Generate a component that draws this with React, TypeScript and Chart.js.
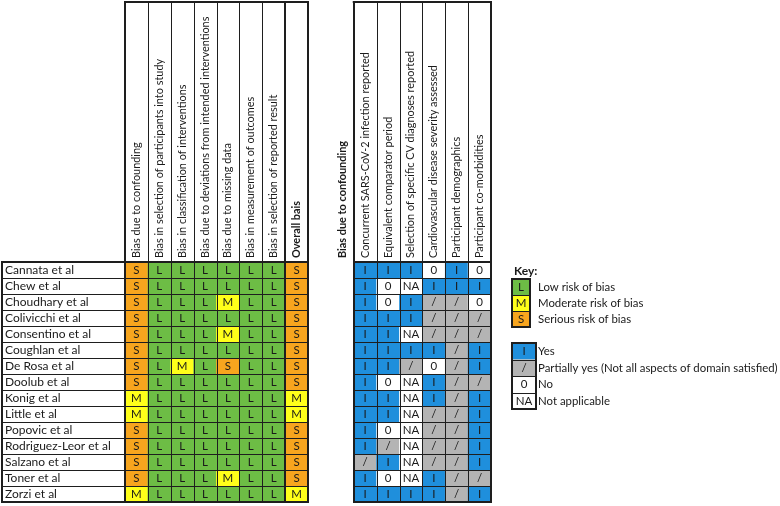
import React, { useEffect, useRef } from 'react';
import { Chart, registerables } from 'chart.js';

Chart.register(...registerables);

const studies = [
  'Cannata et al', 'Chew et al', 'Choudhary et al', 'Colivicchi et al', 'Consentino et al',
  'Coughlan et al', 'De Rosa et al', 'Doolub et al', 'Konig et al', 'Little et al',
  'Popovic et al', 'Rodriguez-Leor et al', 'Salzano et al', 'Toner et al', 'Zorzi et al',
];

const domainHeaders = [
  'Bias due to confounding',
  'Bias in selection of participants into study',
  'Bias in classification of interventions',
  'Bias due to deviations from intended interventions',
  'Bias due to missing data',
  'Bias in measurement of outcomes',
  'Bias in selection of reported result',
  'Overall bais',
];
const confoundingTitle = 'Bias due to confounding';
const confoundingHeaders = [
  'Concurrent SARS-CoV-2 infection reported',
  'Equivalent comparator period',
  'Selection of specific CV diagnoses reported',
  'Cardiovascular disease severity assessed',
  'Participant demographics',
  'Participant co-morbidities',
];

// ROBINS-I domain ratings (L / M / S), one entry per study
const biasConfounding = ['S', 'S', 'S', 'S', 'S', 'S', 'S', 'S', 'M', 'M', 'S', 'S', 'S', 'S', 'M'];
const biasSelection = ['L', 'L', 'L', 'L', 'L', 'L', 'L', 'L', 'L', 'L', 'L', 'L', 'L', 'L', 'L'];
const biasClassification = ['L', 'L', 'L', 'L', 'L', 'L', 'M', 'L', 'L', 'L', 'L', 'L', 'L', 'L', 'L'];
const biasDeviations = ['L', 'L', 'L', 'L', 'L', 'L', 'L', 'L', 'L', 'L', 'L', 'L', 'L', 'L', 'L'];
const biasMissing = ['L', 'L', 'M', 'L', 'M', 'L', 'S', 'L', 'L', 'L', 'L', 'L', 'L', 'M', 'L'];
const biasMeasurement = ['L', 'L', 'L', 'L', 'L', 'L', 'L', 'L', 'L', 'L', 'L', 'L', 'L', 'L', 'L'];
const biasReported = ['L', 'L', 'L', 'L', 'L', 'L', 'L', 'L', 'L', 'L', 'L', 'L', 'L', 'L', 'L'];
const overallBias = ['S', 'S', 'S', 'S', 'S', 'S', 'S', 'S', 'M', 'M', 'S', 'S', 'S', 'S', 'M'];

// Confounding sub-domain answers (I = yes, / = partially, 0 = no, NA)
const concurrentInfection = ['I', 'I', 'I', 'I', 'I', 'I', 'I', 'I', 'I', 'I', 'I', 'I', '/', 'I', 'I'];
const equivalentPeriod = ['I', '0', '0', 'I', 'I', 'I', 'I', '0', 'I', 'I', '0', '/', 'I', '0', 'I'];
const specificDiagnoses = ['I', 'NA', 'I', 'I', 'NA', 'I', '/', 'NA', 'NA', 'NA', 'NA', 'NA', 'NA', 'NA', 'I'];
const severityAssessed = ['0', 'I', '/', '/', '/', 'I', '0', 'I', 'I', '/', '/', '/', '/', 'I', 'I'];
const demographics = ['I', 'I', '/', '/', '/', '/', '/', '/', '/', '/', '/', '/', '/', '/', '/'];
const comorbidities = ['0', 'I', '0', '/', '/', 'I', 'I', '/', 'I', 'I', 'I', 'I', 'I', '/', 'I'];

const riskKey = ['L', 'M', 'S'];
const riskKeyLabels = ['Low risk of bias', 'Moderate risk of bias', 'Serious risk of bias'];
const answerKey = ['I', '/', '0', 'NA'];
const answerKeyLabels = ['Yes', 'Partially yes (Not all aspects of domain satisfied)', 'No', 'Not applicable'];

const columnLabels = [...domainHeaders, '', confoundingTitle, ...confoundingHeaders];
const columnData: (string[] | null)[] = [
  biasConfounding, biasSelection, biasClassification, biasDeviations,
  biasMissing, biasMeasurement, biasReported, overallBias,
  null, null,
  concurrentInfection, equivalentPeriod, specificDiagnoses, severityAssessed, demographics, comorbidities,
];

const FILLS: Record<string, string> = {
  L: '#6dbd45',
  M: '#ffff1a',
  S: '#f7a51e',
  I: '#1f8fdc',
  '/': '#b4b4b4',
  '0': '#ffffff',
  NA: '#ffffff',
};

const FONT = 'Lato, "Open Sans", sans-serif';
const INK = '#1a1a1a';

function hLine(ctx: CanvasRenderingContext2D, x1: number, x2: number, y: number, w: number) {
  ctx.lineWidth = w;
  const yy = w % 2 ? Math.round(y) + 0.5 : Math.round(y);
  ctx.beginPath();
  ctx.moveTo(x1, yy);
  ctx.lineTo(x2, yy);
  ctx.stroke();
}
function vLine(ctx: CanvasRenderingContext2D, x: number, y1: number, y2: number, w: number) {
  ctx.lineWidth = w;
  const xx = w % 2 ? Math.round(x) + 0.5 : Math.round(x);
  ctx.beginPath();
  ctx.moveTo(xx, y1);
  ctx.lineTo(xx, y2);
  ctx.stroke();
}

const tablePlugin = {
  id: 'robTable',
  afterDatasetsDraw(chart: any) {
    const { ctx, scales } = chart;
    const x = scales.x;
    const y = scales.y;
    const cw = x.getPixelForValue(1) - x.getPixelForValue(0);
    const colL = (i: number) => x.getPixelForValue(i) - cw / 2;
    const rowT = (r: number) => y.getPixelForValue(r);
    const n = studies.length;
    const headerTop = 2;
    const top = rowT(0);
    const bottom = rowT(n);
    const nameLeft = 2;

    ctx.save();
    // cell letters
    ctx.fillStyle = INK;
    ctx.textAlign = 'center';
    ctx.textBaseline = 'middle';
    ctx.font = `11.5px ${FONT}`;
    columnData.forEach((col, i) => {
      if (!col) return;
      col.forEach((v, r) => {
        ctx.fillText(v, x.getPixelForValue(i), (rowT(r) + rowT(r + 1)) / 2 + 0.5);
      });
    });

    // study names
    ctx.textAlign = 'left';
    ctx.font = `12px ${FONT}`;
    studies.forEach((s, r) => {
      ctx.fillText(s, nameLeft + 3, (rowT(r) + rowT(r + 1)) / 2 + 0.5);
    });

    // rotated headers
    columnLabels.forEach((lab, i) => {
      if (!lab) return;
      const bold = i === 7 || i === 9;
      ctx.save();
      ctx.translate(x.getPixelForValue(i), top - 4);
      ctx.rotate(-Math.PI / 2);
      ctx.font = `${bold ? 'bold ' : ''}10.9px ${FONT}`;
      ctx.textAlign = 'left';
      ctx.textBaseline = 'middle';
      ctx.fillText(lab, 0, 0);
      ctx.restore();
    });

    // grid lines
    ctx.strokeStyle = '#1e1e1e';
    const tables = [[0, 8], [10, 16]];
    tables.forEach(([c0, c1]) => {
      const xl = colL(c0);
      const xr = colL(c1);
      for (let c = c0; c <= c1; c++) {
        const thick = c === c0 || c === c1 || (c0 === 0 && c === 7);
        vLine(ctx, colL(c), headerTop, bottom + 1, thick ? 2 : 1);
      }
      for (let r = 0; r <= n; r++) {
        const thick = r === 0 || r === n;
        hLine(ctx, xl, xr, rowT(r), thick ? 2 : 1);
      }
      hLine(ctx, xl - 1, xr + 1, headerTop, 2);
    });
    // name column
    for (let r = 0; r <= n; r++) {
      const thick = r === 0 || r === n;
      hLine(ctx, nameLeft, colL(0), rowT(r), thick ? 2 : 1);
    }
    vLine(ctx, nameLeft, top - 1, bottom + 1, 2);

    // keys
    const drawKey = (keys: string[], labels: string[], kx: number, ky: number, kw: number, kh: number) => {
      keys.forEach((k, j) => {
        ctx.fillStyle = FILLS[k];
        ctx.fillRect(kx, ky + j * kh, kw, kh);
        ctx.fillStyle = INK;
        ctx.textAlign = 'center';
        ctx.textBaseline = 'middle';
        ctx.font = `11.5px ${FONT}`;
        ctx.fillText(k, kx + kw / 2, ky + j * kh + kh / 2 + 0.5);
        ctx.textAlign = 'left';
        ctx.font = `11.4px ${FONT}`;
        ctx.fillText(labels[j], 538, ky + j * kh + kh / 2 + 0.5);
      });
      ctx.strokeStyle = '#1e1e1e';
      for (let j = 1; j < keys.length; j++) hLine(ctx, kx, kx + kw, ky + j * kh, 1);
      ctx.lineWidth = 2;
      ctx.strokeRect(kx, ky, kw, keys.length * kh);
    };
    ctx.fillStyle = INK;
    ctx.font = `bold 12px ${FONT}`;
    ctx.textAlign = 'left';
    ctx.textBaseline = 'middle';
    ctx.fillText('Key:', 514, 271);
    drawKey(riskKey, riskKeyLabels, 512, 279, 18, 16);
    drawKey(answerKey, answerKeyLabels, 512, 343, 24, 16.5);

    ctx.restore();
  },
};

export default function App() {
  const ref = useRef<HTMLCanvasElement | null>(null);
  useEffect(() => {
    if (!ref.current) return;
    const datasets = studies.map((s, r) => ({
      label: s,
      data: columnData.map((col) => (col ? [r, r + 1] : null)),
      backgroundColor: columnData.map((col) => (col ? FILLS[col[r]] : 'rgba(0,0,0,0)')),
      borderWidth: 0,
      grouped: false,
      barPercentage: 1,
      categoryPercentage: 1,
    }));
    const chart = new Chart(ref.current, {
      type: 'bar',
      data: { labels: columnLabels, datasets: datasets as any },
      options: {
        animation: false,
        responsive: false,
        devicePixelRatio: 1,
        events: [],
        layout: { padding: { left: 125, top: 262, right: 289, bottom: 4 } },
        plugins: { legend: { display: false }, tooltip: { enabled: false } },
        scales: {
          x: { type: 'category', display: false, offset: true, grid: { display: false } },
          y: { type: 'linear', display: false, min: 0, max: studies.length, reverse: true },
        },
      } as any,
      plugins: [tablePlugin],
    });
    return () => chart.destroy();
  }, []);
  return (
    <div style={{ position: 'fixed', left: 0, top: 0, width: 780, height: 506, background: '#fff' }}>
      <canvas ref={ref} width={780} height={506} style={{ width: 780, height: 506, display: 'block' }} />
    </div>
  );
}
